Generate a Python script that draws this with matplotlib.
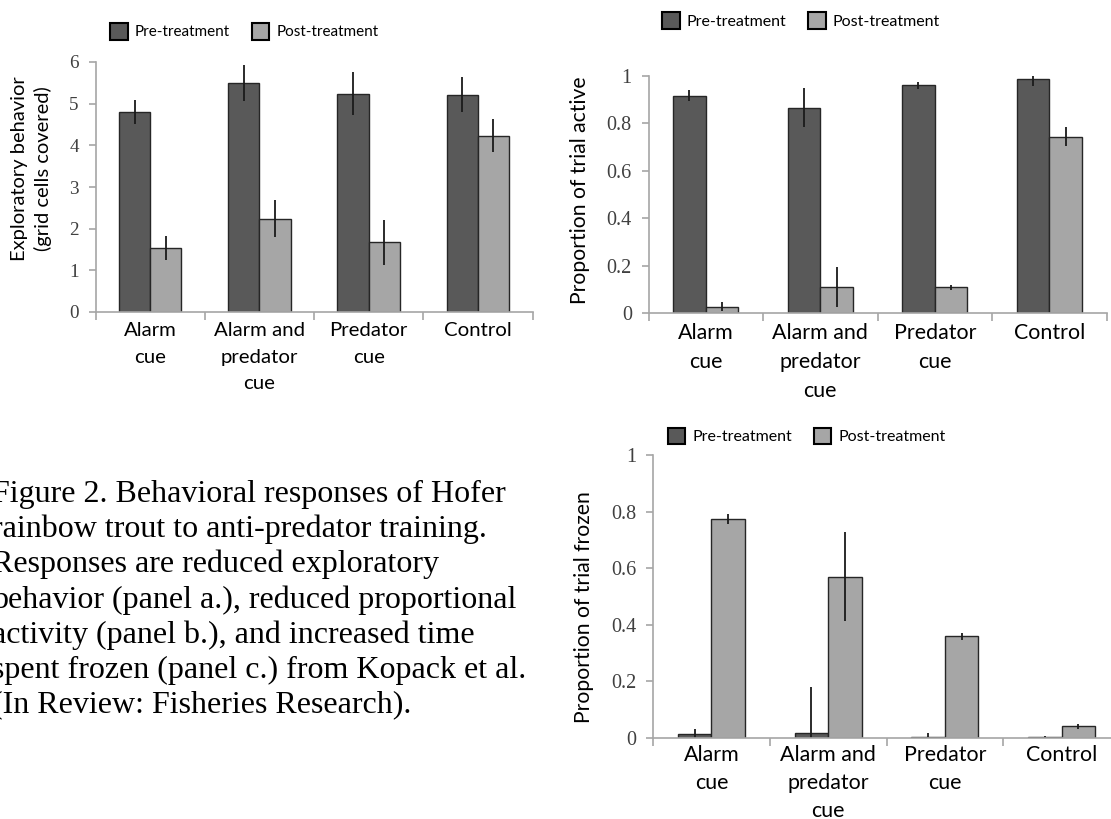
import numpy as np
import matplotlib.pyplot as plt
from matplotlib.patches import Patch
from matplotlib.ticker import FormatStrFormatter

# Dades llegides de la figura (panells a, b, c)
grups = ['Alarm\ncue', 'Alarm and\npredator\ncue', 'Predator\ncue', 'Control']

explor_pre = [4.81, 5.50, 5.24, 5.22]
explor_pre_err = [0.29, 0.43, 0.52, 0.41]
explor_post = [1.53, 2.24, 1.67, 4.23]
explor_post_err = [0.29, 0.44, 0.53, 0.40]

actiu_pre = [0.916, 0.866, 0.961, 0.986]
actiu_pre_err = [0.023, 0.083, 0.014, 0.028]
actiu_post = [0.027, 0.110, 0.108, 0.743]
actiu_post_err = [0.018, 0.086, 0.012, 0.040]

quiet_pre = [0.013, 0.018, 0.005, 0.004]
quiet_pre_err = [0.018, 0.162, 0.012, 0.003]
quiet_post = [0.775, 0.570, 0.359, 0.041]
quiet_post_err = [0.018, 0.157, 0.013, 0.009]

llegenda = ['Pre-treatment', 'Post-treatment']
caption = ("Figure 2. Behavioral responses of Hofer\n"
           "rainbow trout to anti-predator training.\n"
           "Responses are reduced exploratory\n"
           "behavior (panel a.), reduced proportional\n"
           "activity (panel b.), and increased time\n"
           "spent frozen (panel c.) from Kopack et al.\n"
           "(In Review: Fisheries Research).")

COL_PRE = '#595959'
COL_POST = '#a6a6a6'
SANS = ['Lato', 'DejaVu Sans']
SERIF = ['Liberation Serif', 'DejaVu Serif']

W, H = 1111, 819
fig = plt.figure(figsize=(W / 100, H / 100), dpi=100)


def eixos(x0, x1, y_top, y_zero):
    # posicio en pixels (des de dalt) -> fraccio de figura
    return fig.add_axes([x0 / W, 1 - y_zero / H, (x1 - x0) / W, (y_zero - y_top) / H])


def panell(ax, pre, pre_err, post, post_err, ymax, ystep, ylabel, lab_xy, leg_xy, k, ls, pad):
    x = np.arange(len(grups))
    w = 0.286
    ax.bar(x - w / 2, pre, w, color=COL_PRE, edgecolor='#262626', linewidth=1.0)
    ax.bar(x + w / 2, post, w, color=COL_POST, edgecolor='#262626', linewidth=1.0)
    ax.errorbar(x - w / 2, pre, yerr=pre_err, fmt='none', ecolor='#1a1a1a', elinewidth=1.3, capsize=0)
    ax.errorbar(x + w / 2, post, yerr=post_err, fmt='none', ecolor='#1a1a1a', elinewidth=1.3, capsize=0)
    ax.set_xlim(-0.5, len(grups) - 0.5)
    ax.set_ylim(0, ymax)
    ax.set_yticks(np.arange(0, ymax + ystep / 2, ystep))
    ax.yaxis.set_major_formatter(FormatStrFormatter('%g'))
    ax.set_xticks(x)
    ax.set_xticklabels(grups, family=SANS, fontsize=14.7 * k, linespacing=ls)
    ax.set_xticks(np.arange(-0.5, len(grups)), minor=True)
    ax.tick_params(axis='x', which='major', length=0, pad=pad)
    ax.tick_params(axis='x', which='minor', length=6, width=1.2, color='#a6a6a6', direction='out')
    ax.tick_params(axis='y', length=5, width=1.2, color='#a6a6a6', direction='out',
                   labelsize=13.8 * k, labelcolor='#404040', pad=7)
    for t in ax.get_yticklabels():
        t.set_family(SERIF)
    for s in ['top', 'right']:
        ax.spines[s].set_visible(False)
    for s in ['left', 'bottom']:
        ax.spines[s].set_color('#a6a6a6')
        ax.spines[s].set_linewidth(1.2)
    ax.text(lab_xy[0], lab_xy[1], ylabel, transform=ax.transAxes, rotation=90,
            ha='center', va='center', family=SANS, fontsize=14.5 * k, linespacing=1.4)
    handles = [Patch(facecolor=COL_PRE, edgecolor='black', linewidth=1.5),
               Patch(facecolor=COL_POST, edgecolor='black', linewidth=1.5)]
    fs = 11.0 * k
    px = fs * 100 / 72
    fig.legend(handles, llegenda, loc='upper left',
               bbox_to_anchor=(leg_xy[0] / W, 1 - leg_xy[1] / H),
               ncol=2, frameon=False, prop={'family': SANS, 'size': fs},
               handlelength=17.5 / px, handleheight=20 / px, handletextpad=7 / px,
               columnspacing=22 / px, borderpad=0, borderaxespad=0)


ax_a = eixos(95.5, 532.5, 62, 312)
panell(ax_a, explor_pre, explor_pre_err, explor_post, explor_post_err, 6, 1,
       'Exploratory behavior\n(grid cells covered)', (-0.147, 0.572), (110, 23), 1.0, 1.7, 7)

ax_b = eixos(648.5, 1106.5, 76, 313)
panell(ax_b, actiu_pre, actiu_pre_err, actiu_post, actiu_post_err, 1, 0.2,
       'Proportion of trial active', (-0.149, 0.52), (662, 12), 1.05, 1.56, 7)

ax_c = eixos(653, 1120, 455, 738)
panell(ax_c, quiet_pre, quiet_pre_err, quiet_post, quiet_post_err, 1, 0.2,
       'Proportion of trial frozen', (-0.148, 0.463), (667.5, 427.5), 1.05, 1.5, 5)

fig.text(-8 / W, 1 - 480 / H, caption, ha='left', va='top', family=SERIF,
         fontsize=23, linespacing=1.255, color='black')

fig.savefig('out.png', dpi=100)
